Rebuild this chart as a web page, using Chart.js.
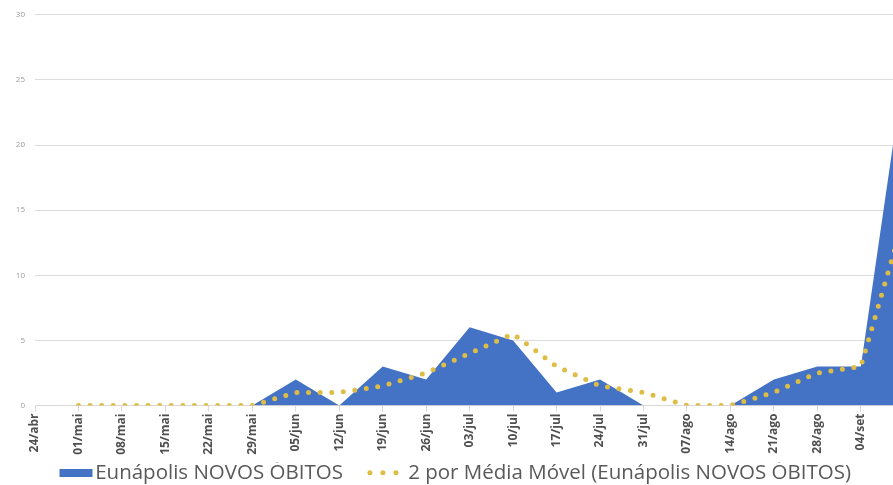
<!DOCTYPE html>
<html>
<head>
<meta charset="utf-8">
<script src="https://cdn.jsdelivr.net/npm/chart.js@4.4.1/dist/chart.umd.min.js"></script>
<style>
  html, body { margin: 0; padding: 0; background: #fff; overflow: hidden; }
  #wrap { width: 893px; height: 485px; }
</style>
</head>
<body>
<div id="wrap"><canvas id="obitosChart"></canvas></div>
<script>
// weekly labels (the last one, 11/set, falls outside the picture)
const weeks = ['24/abr', '01/mai', '08/mai', '15/mai', '22/mai', '29/mai', '05/jun', '12/jun',
  '19/jun', '26/jun', '03/jul', '10/jul', '17/jul', '24/jul', '31/jul', '07/ago', '14/ago',
  '21/ago', '28/ago', '04/set', '11/set'];

const novosObitos = [0, 0, 0, 0, 0, 0, 2, 0, 3, 2, 6, 5, 1, 2, 0, 0, 0, 2, 3, 3, 26];

// 2-period moving average, starts on the second week
const mediaMovel = [null, 0, 0, 0, 0, 0, 1, 1, 1.5, 2.5, 4, 5.5, 3, 1.5, 1, 0, 0, 1, 2.5, 3, 14.5];

const yTicks = [0, 5, 10, 15, 20, 25, 30];

const blue = '#4472C4';
const gold = '#DDBD45';

const toPoints = arr => arr.map((v, i) => ({ x: i, y: v }));

// legend swatch for the area series: a flat blue bar, drawn off-centre
const swatch = document.createElement('canvas');
swatch.width = 80;
swatch.height = 8;
const sctx = swatch.getContext('2d');
sctx.fillStyle = blue;
sctx.fillRect(42, 0, 33, 8);

// the original legend sits a little left of centre
const legendShift = {
  id: 'legendShift',
  afterLayout(chart) {
    chart.legend.left -= 6;
    chart.legend.right -= 6;
  }
};

const ctx = document.getElementById('obitosChart');

new Chart(ctx, {
  type: 'line',
  data: {
    datasets: [{
      label: 'Eunápolis NOVOS ÓBITOS',
      data: toPoints(novosObitos),
      fill: 'origin',
      backgroundColor: blue,
      borderColor: blue,
      borderWidth: 0,
      pointRadius: 0,
      tension: 0,
      order: 2
    }, {
      label: '2 por Média Móvel (Eunápolis NOVOS ÓBITOS)',
      data: toPoints(mediaMovel),
      fill: false,
      borderColor: gold,
      borderWidth: 5,
      borderDash: [0, 11.6],
      borderCapStyle: 'round',
      pointRadius: 0,
      tension: 0,
      order: 1
    }]
  },
  plugins: [legendShift],
  options: {
    responsive: true,
    maintainAspectRatio: false,
    animation: false,
    layout: { padding: { left: 0, right: 0, top: 6, bottom: -8 } },
    plugins: {
      tooltip: { enabled: false },
      legend: {
        position: 'bottom',
        labels: {
          usePointStyle: true,
          pointStyleWidth: 55,
          boxHeight: 8,
          padding: 0,
          color: '#595959',
          font: { family: 'Open Sans', size: 20.5 },
          generateLabels: chart => chart.data.datasets.map((ds, i) => ({
            text: ds.label,
            datasetIndex: i,
            fillStyle: i === 0 ? blue : 'rgba(0,0,0,0)',
            strokeStyle: i === 0 ? blue : gold,
            lineWidth: i === 0 ? 0 : 5,
            lineDash: i === 0 ? [] : [0, 13, 0, 13, 0, 74],
            lineDashOffset: i === 0 ? 0 : 73,
            lineCap: 'round',
            pointStyle: i === 0 ? swatch : 'line',
            fontColor: '#595959',
            hidden: false
          }))
        }
      }
    },
    scales: {
      x: {
        type: 'linear',
        min: 0,
        max: 19.74,
        afterFit: s => { s.height = Math.max(s.height, 57); },
        grid: {
          drawOnChartArea: false,
          drawTicks: true,
          tickLength: 6,
          color: '#d9d9d9'
        },
        border: { color: '#d9d9d9' },
        ticks: {
          stepSize: 1,
          includeBounds: false,
          autoSkip: false,
          minRotation: 90,
          maxRotation: 90,
          padding: 2,
          color: '#4f4f4f',
          font: { family: 'Open Sans', size: 12, weight: 'bold' },
          callback: v => weeks[v]
        }
      },
      y: {
        min: yTicks[0],
        max: yTicks[yTicks.length - 1],
        afterFit: s => { s.width = 35; },
        afterBuildTicks: s => { s.ticks = yTicks.map(v => ({ value: v })); },
        grid: { color: '#dcdcdc', drawTicks: false },
        border: { display: false },
        ticks: {
          padding: 10,
          color: '#9a9a9a',
          font: { family: 'Open Sans', size: 8 }
        }
      }
    }
  }
});
</script>
</body>
</html>
